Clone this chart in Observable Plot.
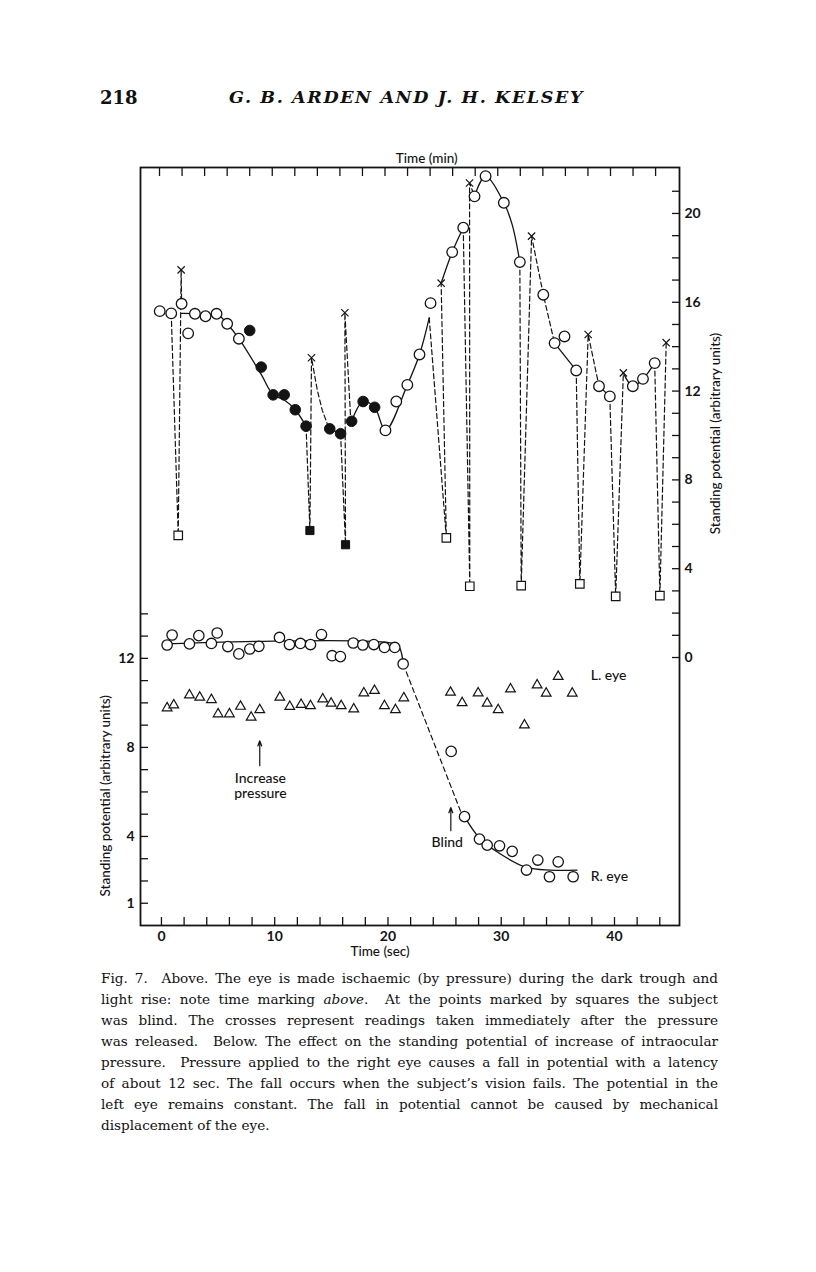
<!DOCTYPE html>
<html>
<head>
<meta charset="utf-8">
<script src="https://cdn.jsdelivr.net/npm/d3@7"></script>
<script src="https://cdn.jsdelivr.net/npm/@observablehq/plot@0.6"></script>
<style>
  html, body { margin: 0; padding: 0; background: #fff; }
  #page { position: relative; width: 816px; height: 1272px; background: #fff; overflow: hidden; }
  .hdr { position: absolute; top: 87px; font-family: "DejaVu Serif", serif; font-weight: bold; color: #111; white-space: nowrap; }
  #pg { left: 100px; font-size: 18px; }
  #au { left: 229px; font-size: 17.5px; font-style: italic; letter-spacing: 1.6px; }
  #cap { position: absolute; left: 101px; top: 968px; width: 617px; font-family: "DejaVu Serif", serif; font-size: 13.6px; line-height: 21px; color: #111; }
  #cap div { text-align: justify; text-align-last: justify; white-space: nowrap; }
  #cap div.last { text-align-last: left; }
  .plotlayer { position: absolute; left: 0; top: 130px; }
</style>
</head>
<body>
<div id="page">
  <div class="hdr" id="pg">218</div>
  <div class="hdr" id="au">G. B. ARDEN AND J. H. KELSEY</div>
  <div id="cap"></div>
</div>
<script>
// ---------- Tick values / labels ----------
const secTicks = [0,2,4,6,8,10,12,14,16,18,20,22,24,26,28,30,32,34,36,38,40,42,44];
const secLabels = [0,10,20,30,40];
const minTicks = [0,1,2,3,4,5,6,7,8,9,10,11,12,13,14,15,16,17,18,19,20,21,22];
const leftTicks = [1,2,3,4,5,6,7,8,9,10,11,12,13,14];
const leftLabels = [1,4,8,12];
const rightTicks = [0,1,2,3,4,5,6,7,8,9,10,11,12,13,14,15,16,17,18,19,20,21];
const rightLabels = [0,4,8,12,16,20];

// ---------- Upper panel (time in min, right axis) ----------
const upOpenCircles = [[0.01,15.6],[0.52,15.5],[0.98,15.93],[1.27,14.6],[1.57,15.48],[2.04,15.37],[2.53,15.48],[3.0,15.03],[3.52,14.36],
  [10.02,10.23],[10.5,11.53],[10.99,12.28],[11.53,13.65],[12.02,15.96],[12.98,18.26],[13.47,19.36],[13.97,20.77],[14.46,21.68],
  [15.27,20.48],[15.98,17.81],[17.02,16.34],[17.52,14.16],[17.96,14.46],[18.48,12.93],[19.49,12.22],[19.97,11.76],[20.99,12.22],
  [21.44,12.55],[21.96,13.26]];
const upFilledCircles = [[4.0,14.73],[4.51,13.08],[5.04,11.83],[5.53,11.83],[6.02,11.16],[6.5,10.42],[7.55,10.3],[8.03,10.08],
  [8.52,10.64],[9.03,11.53],[9.54,11.27]];
const upOpenSquares = [[0.83,5.5],[12.72,5.39],[13.76,3.21],[16.04,3.24],[18.64,3.32],[20.23,2.75],[22.19,2.79]];
const upFilledSquares = [[6.67,5.72],[8.25,5.08]];
const upCrosses = [[0.96,17.46],[6.74,13.5],[8.22,15.53],[12.49,16.86],[13.75,21.37],[16.5,18.98],[19.01,14.55],[20.57,12.82],[22.47,14.18]];

const upSolidA = [[0.98,15.5],[1.57,15.48],[2.04,15.37],[2.53,15.48],[3.0,15.03],[3.52,14.36],[4.51,12.75],[5.04,11.83],[5.53,11.6],[6.02,11.16],[6.5,10.42]];
const upSolidB = [[7.55,10.3],[8.03,10.08]];
const upSolidC = [[8.52,10.64],[9.03,11.53],[9.54,11.27],[10.02,10.23],[10.99,12.28],[11.53,13.65],[11.96,15.3]];
const upSolidD = [[12.49,16.86],[12.98,18.26],[13.47,19.36]];
const upSolidE = [[13.97,20.77],[14.46,21.68],[15.27,20.48],[15.64,19.5],[15.98,17.81]];
const upSolidF = [[17.52,14.16],[18.48,12.93]];
const upSolidG = [[20.57,12.82],[20.99,12.22],[21.44,12.55],[21.96,13.26]];

const upDash1 = [[0.52,15.5],[0.83,5.5],[0.96,17.46],[0.98,15.93]];
const upDash2 = [[6.5,10.42],[6.67,5.72],[6.74,13.5],[7.0,12.03],[7.22,11.13],[7.44,10.53],[7.55,10.3]];
const upDash3 = [[8.03,10.08],[8.25,5.08],[8.22,15.53],[8.47,10.9],[8.52,10.64]];
const upDash4 = [[11.96,15.3],[12.72,5.39],[12.49,16.86]];
const upDash5 = [[13.47,19.36],[13.76,3.21],[13.75,21.37],[13.97,20.77]];
const upDash6 = [[15.98,17.81],[16.04,3.24],[16.5,18.98],[17.02,16.34],[17.52,14.16]];
const upDash7 = [[18.48,12.93],[18.64,3.32],[19.01,14.55],[19.49,12.22],[19.97,11.76]];
const upDash8 = [[19.97,11.76],[20.23,2.75],[20.57,12.82]];
const upDash9 = [[21.96,13.26],[22.19,2.79],[22.47,14.18]];

// ---------- Lower panel (time in sec, left axis) ----------
const rEyeCircles = [[0.5,12.6],[0.94,13.05],[2.47,12.65],[3.3,13.02],[4.41,12.67],[4.92,13.14],[5.86,12.53],[6.83,12.2],[7.8,12.42],
  [8.6,12.54],[10.42,12.94],[11.3,12.62],[12.27,12.67],[13.16,12.62],[14.13,13.07],[15.07,12.12],[15.8,12.08],[16.93,12.69],
  [17.78,12.6],[18.75,12.62],[19.69,12.49],[20.6,12.49],[21.34,11.75],[25.58,7.82],[26.76,4.89],[28.08,3.88],[28.76,3.61],
  [29.85,3.58],[30.97,3.33],[32.23,2.49],[33.23,2.94],[34.26,2.19],[35.03,2.86],[36.35,2.19]];
const lEyeTriangles = [[0.5,9.77],[1.09,9.9],[2.47,10.35],[3.38,10.25],[4.41,10.14],[5.0,9.5],[6.0,9.5],[6.98,9.84],[7.92,9.35],
  [8.68,9.69],[10.45,10.25],[11.33,9.83],[12.33,9.92],[13.16,9.87],[14.24,10.17],[14.98,9.98],[15.87,9.87],[16.98,9.72],
  [17.87,10.44],[18.81,10.55],[19.69,9.87],[20.66,9.69],[21.4,10.22],[25.52,10.47],[26.55,10.0],[27.96,10.44],[28.76,9.98],
  [29.73,9.69],[30.82,10.62],[32.05,9.0],[33.17,10.8],[33.97,10.43],[35.03,11.18],[36.27,10.43]];
const rEyeSolid1 = [[0.5,12.65],[20.6,12.65],[21.05,12.45],[21.34,11.75]];
const rEyeDashed = [[21.34,11.75],[26.55,4.95]];
const rEyeSolid2 = [[26.76,4.89],[28.08,3.93],[29.93,3.21],[32.23,2.61],[34.35,2.49],[36.7,2.49]];
const arrowsLow = [{x: 8.68, y1: 7.18, y2: 8.3}, {x: 25.55, y1: 4.26, y2: 5.3}];
const notesLow = [
  {x: 8.74, y: 6.6, text: "Increase", anchor: "middle"},
  {x: 8.74, y: 5.91, text: "pressure", anchor: "middle"},
  {x: 23.85, y: 3.72, text: "Blind", anchor: "start"},
  {x: 37.9, y: 11.22, text: "L. eye", anchor: "start"},
  {x: 37.9, y: 2.19, text: "R. eye", anchor: "start"}
];

const captionLines = [
  "Fig. 7.&nbsp; Above. The eye is made ischaemic (by pressure) during the dark trough and",
  "light rise: note time marking <i>above</i>.&nbsp; At the points marked by squares the subject",
  "was blind. The crosses represent readings taken immediately after the pressure",
  "was released.&nbsp; Below. The effect on the standing potential of increase of intraocular",
  "pressure.&nbsp; Pressure applied to the right eye causes a fall in potential with a latency",
  "of about 12 sec. The fall occurs when the subject\u2019s vision fails. The potential in the",
  "left eye remains constant. The fall in potential cannot be caused by mechanical",
  "displacement of the eye."
];

// ---------- helpers ----------
const segs = (list) => list.flatMap((pts, i) => pts.map(([x, y]) => ({seg: i, x, y})));
const INK = "#141414";
const W = 816, H = 840;
const M = {marginLeft: 140, marginRight: 137, marginTop: 37, marginBottom: 45};
const baseStyle = {fontFamily: "Lato, 'Open Sans', sans-serif", fontSize: "14px", color: INK, background: "transparent", overflow: "visible"};

// ---------- lower plot ----------
const lower = Plot.plot({
  width: W, height: H, ...M,
  style: baseStyle,
  x: {domain: [-1.85, 45.74]},
  y: {domain: [0, 34.05]},
  marks: [
    Plot.frame({stroke: INK, strokeWidth: 1.8}),
    Plot.axisX(secTicks, {anchor: "bottom", tickSize: -8, tickPadding: 14, strokeWidth: 1.3,
      tickFormat: d => secLabels.includes(d) ? String(d) : "", fontWeight: "bold", fontSize: 14, label: null}),
    Plot.axisY(leftTicks, {anchor: "left", tickSize: -8, tickPadding: 14, strokeWidth: 1.3,
      tickFormat: d => leftLabels.includes(d) ? String(d) : "", fontWeight: "bold", fontSize: 14, label: null}),
    Plot.text(["Time (sec)"], {x: 19.3, frameAnchor: "bottom", dy: 30, text: d => d, fontSize: 13.5, fontWeight: 500}),
    Plot.text(["Standing potential (arbitrary units)"], {x: -4.94, y: 5.83, rotate: -90, text: d => d, fontSize: 13.5, fontWeight: 500}),
    Plot.line(segs([rEyeSolid1, rEyeSolid2]), {x: "x", y: "y", z: "seg", curve: "catmull-rom", stroke: INK, strokeWidth: 1.3}),
    Plot.line(segs([rEyeDashed]), {x: "x", y: "y", z: "seg", stroke: INK, strokeWidth: 1.2, strokeDasharray: "5,3.5"}),
    Plot.dot(lEyeTriangles, {x: d => d[0], y: d => d[1], symbol: "triangle", r: 3.6, fill: "white", stroke: INK, strokeWidth: 1.2}),
    Plot.dot(rEyeCircles, {x: d => d[0], y: d => d[1], r: 5.2, fill: "white", stroke: INK, strokeWidth: 1.3}),
    Plot.arrow(arrowsLow, {x: "x", y1: "y1", y2: "y2", stroke: INK, strokeWidth: 1.2, headLength: 7, headAngle: 40}),
    Plot.text(notesLow, {x: "x", y: "y", text: "text", textAnchor: "start", filter: d => d.anchor === "start", fontSize: 14, fontWeight: 500}),
    Plot.text(notesLow, {x: "x", y: "y", text: "text", textAnchor: "middle", filter: d => d.anchor === "middle", fontSize: 14, fontWeight: 500})
  ]
});

// ---------- upper plot ----------
const upper = Plot.plot({
  width: W, height: H, ...M,
  style: baseStyle,
  x: {domain: [-0.843, 23.06]},
  y: {domain: [-12.07, 22.07]},
  marks: [
    Plot.axisX(minTicks, {anchor: "top", tickSize: -8, tickPadding: 0, strokeWidth: 1.3, tickFormat: () => "", label: null}),
    Plot.axisY(rightTicks, {anchor: "right", tickSize: -8, tickPadding: 13, strokeWidth: 1.3,
      tickFormat: d => rightLabels.includes(d) ? String(d) : "", fontWeight: "bold", fontSize: 14, label: null}),
    Plot.text(["Time (min)"], {x: 11.85, frameAnchor: "top", dy: -14, text: d => d, fontSize: 13.5, fontWeight: 500}),
    Plot.text(["Standing potential (arbitrary units)"], {x: 24.66, y: 10.09, rotate: -90, text: d => d, fontSize: 13.5, fontWeight: 500}),
    Plot.line(segs([upDash1, upDash2, upDash3, upDash4, upDash5, upDash6, upDash7, upDash8, upDash9]),
      {x: "x", y: "y", z: "seg", stroke: INK, strokeWidth: 1.2, strokeDasharray: "5,3"}),
    Plot.line(segs([upSolidA, upSolidB, upSolidC, upSolidD, upSolidE, upSolidF, upSolidG]),
      {x: "x", y: "y", z: "seg", curve: "catmull-rom", stroke: INK, strokeWidth: 1.3}),
    Plot.dot(upOpenSquares, {x: d => d[0], y: d => d[1], symbol: "square", r: 4.8, fill: "white", stroke: INK, strokeWidth: 1.2}),
    Plot.dot(upFilledSquares, {x: d => d[0], y: d => d[1], symbol: "square", r: 4.6, fill: INK, stroke: INK, strokeWidth: 1}),
    Plot.dot(upCrosses, {x: d => d[0], y: d => d[1], symbol: "times", r: 3.4, stroke: INK, strokeWidth: 1.2}),
    Plot.dot(upOpenCircles, {x: d => d[0], y: d => d[1], r: 5.3, fill: "white", stroke: INK, strokeWidth: 1.3}),
    Plot.dot(upFilledCircles, {x: d => d[0], y: d => d[1], r: 5.3, fill: INK, stroke: INK, strokeWidth: 1})
  ]
});

const page = document.getElementById("page");
for (const p of [lower, upper]) {
  p.classList.add("plotlayer");
  p.style.position = "absolute";
  p.style.left = "0px";
  p.style.top = "130px";
  page.appendChild(p);
}
document.getElementById("cap").innerHTML = captionLines.map((l, i) =>
  `<div class="${i === captionLines.length - 1 ? "last" : ""}">${l}</div>`).join("");
</script>
</body>
</html>
